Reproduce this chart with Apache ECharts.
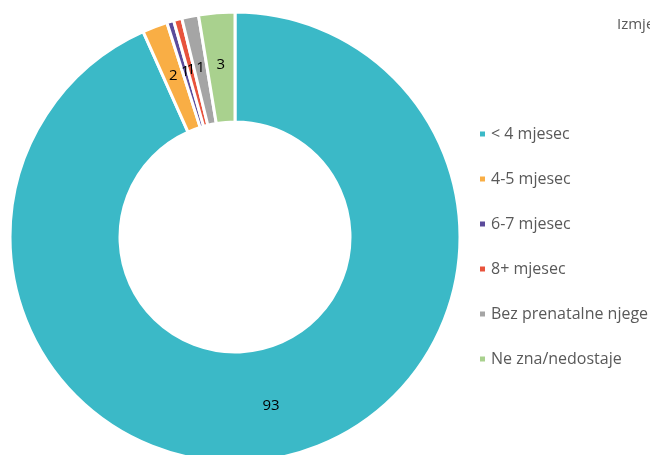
<!DOCTYPE html>
<html><head><meta charset="utf-8">
<script src="https://cdn.jsdelivr.net/npm/echarts@6/dist/echarts.min.js"></script>
<style>html,body{margin:0;padding:0;background:#fff}#c{width:650px;height:455px}</style>
</head><body><div id="c"></div>
<script>
const categories = ['< 4 mjesec','4-5 mjesec','6-7 mjesec','8+ mjesec','Bez prenatalne njege','Ne zna/nedostaje'];
const values = [93.4, 1.8, 0.5, 0.6, 1.2, 2.6];
const colors = ['#3BB9C7','#F9AE45','#5B4B9B','#E8533C','#A5A5A5','#A9D18E'];
const titleText = 'Izmjena';

const chart = echarts.init(document.getElementById('c'), null, {renderer:'canvas'});
chart.setOption({
  animation:false,
  title:{text:titleText,left:612,top:12,textStyle:{fontFamily:'Open Sans',fontSize:15,fontWeight:'normal',color:'#595959'}},
  legend:{orient:'vertical',left:473,top:121,itemWidth:7,itemHeight:7,itemGap:29,icon:'rect',
    textStyle:{fontFamily:'Open Sans',fontSize:16,color:'#595959'},data:categories},
  series:[{type:'pie',center:[235,237],radius:[115,225],startAngle:90,clockwise:true,
    avoidLabelOverlap:false,
    itemStyle:{borderColor:'#fff',borderWidth:3},
    label:{show:true,position:'inside',color:'#000',fontFamily:'Open Sans',fontSize:15,
      formatter:p=>Math.round(p.value)},
    labelLayout:{hideOverlap:false},
    labelLine:{show:false},
    data:categories.map((n,i)=>({name:n,value:values[i],itemStyle:{color:colors[i]}}))
  }]
});
</script></body></html>
